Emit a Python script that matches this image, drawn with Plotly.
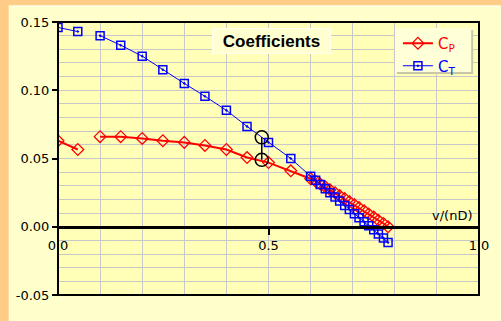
import plotly.graph_objects as go

# ---------------- data ----------------
J_START = [0.0, 0.047]
CP_START = [0.063, 0.0566]
CT_START = [0.146, 0.143]

J_MAIN = [0.100, 0.149, 0.200, 0.249, 0.300, 0.349, 0.400, 0.449, 0.500, 0.553,
          0.600, 0.612, 0.623, 0.635, 0.646, 0.658, 0.669, 0.681, 0.692, 0.704,
          0.715, 0.727, 0.738, 0.750, 0.761, 0.773, 0.784]
CP_MAIN = [0.0660, 0.0660, 0.0647, 0.0630, 0.0618, 0.0596, 0.0566, 0.0507, 0.0470, 0.0410,
           0.0352, 0.0334, 0.0313, 0.0292, 0.0271, 0.0249, 0.0228, 0.0206, 0.0184, 0.0162,
           0.0140, 0.0117, 0.0094, 0.0071, 0.0047, 0.0024, 0.0000]
CT_MAIN = [0.1400, 0.1330, 0.1250, 0.1150, 0.1050, 0.0956, 0.0853, 0.0735, 0.0618, 0.0500,
           0.0370, 0.0340, 0.0310, 0.0279, 0.0249, 0.0218, 0.0188, 0.0156, 0.0126, 0.0095,
           0.0066, 0.0037, 0.0008, -0.0022, -0.0053, -0.0083, -0.0115]

J_MARK = [0.484, 0.484]
C_MARK = [0.0655, 0.0490]

X_TICKS = [0.0, 0.5, 1.0]
X_TICK_TEXT = ["0.0", "0.5", "1.0"]
Y_TICKS = [-0.05, 0.0, 0.05, 0.10, 0.15]
Y_TICK_TEXT = ["-0.05", "0.00", "0.05", "0.10", "0.15"]

# ---------------- styling ----------------
ORANGE = "#FFCC88"
PANEL = "#FFFFCC"
PLOTBG = "#FFFFB8"
GRID = "#C8C8C8"
RED = "#FF0000"
BLUE = "#0000FF"
FONT = "DejaVu Sans"

W, H = 501, 321
L, R, T, B = 58, 12, 22, 26
PW, PH = W - L - R, H - T - B


def px_x(p):
    return (p - L) / PW


def px_y(p):
    return (H - B - p) / PH


fig = go.Figure()

fig.add_trace(go.Scatter(
    x=J_START + [None] + J_MAIN, y=CP_START + [None] + CP_MAIN,
    mode="lines+markers", name="<span style='color:#FF0000'>C<sub>P</sub></span>",
    line=dict(color=RED, width=2),
    marker=dict(symbol="diamond-open", size=9, color=RED, line=dict(width=1.3)),
    connectgaps=False,
))
fig.add_trace(go.Scatter(
    x=J_START + [None] + J_MAIN, y=CT_START + [None] + CT_MAIN,
    mode="lines+markers", name="<span style='color:#0000FF'>C<sub>T</sub></span>",
    line=dict(color=BLUE, width=1),
    marker=dict(symbol="square-open-dot", size=8, color=BLUE, line=dict(width=1.5)),
    connectgaps=False,
))
fig.add_trace(go.Scatter(
    x=J_MARK, y=C_MARK, mode="lines+markers", showlegend=False,
    line=dict(color="black", width=1.5),
    marker=dict(symbol="circle-open", size=13, color="black", line=dict(width=1.5)),
))

shapes = [
    # pale panel inside the orange frame
    dict(type="rect", xref="paper", yref="paper", x0=px_x(7.5), x1=px_x(540),
         y0=px_y(360), y1=px_y(5.5), fillcolor=PANEL, line=dict(width=0), layer="below"),
    # thin light line under the top orange strip
    dict(type="line", xref="paper", yref="paper", x0=px_x(7.5), x1=px_x(540),
         y0=px_y(6), y1=px_y(6), line=dict(color="#FFFFEE", width=1), layer="below"),
    # plot area background
    dict(type="rect", xref="paper", yref="paper", x0=0, x1=1, y0=0, y1=1,
         fillcolor=PLOTBG, line=dict(width=0), layer="below"),
    # title shadow
    dict(type="rect", xref="paper", yref="paper", x0=px_x(220), x1=px_x(337),
         y0=px_y(54), y1=px_y(30), fillcolor="#A8A890", line=dict(width=0), layer="above"),
    # legend shadow
    dict(type="rect", xref="paper", yref="paper", x0=px_x(405), x1=px_x(483),
         y0=px_y(74), y1=px_y(30), fillcolor="#C8C8A8", line=dict(width=0), layer="above"),
    # legend box
    dict(type="rect", xref="paper", yref="paper", x0=px_x(403), x1=px_x(481),
         y0=px_y(72), y1=px_y(28), fillcolor="#FFFFD8", line=dict(width=0), layer="above"),
    # plot frame
    dict(type="rect", xref="paper", yref="paper", x0=0, x1=1, y0=0, y1=1,
         line=dict(color="black", width=2), layer="above"),
]

annotations = [
    dict(text="<b>Coefficients</b>", xref="paper", yref="paper",
         x=px_x(276.5), y=px_y(40.5), xanchor="center", yanchor="middle",
         showarrow=False, font=dict(family="Liberation Sans", size=17, color="black"),
         bgcolor="#FFFFD0", bordercolor="#FFFFF0", borderwidth=1,
         width=115, height=22),
    dict(text="C<sub>P</sub>,C<sub>T</sub>", xref="x", yref="y", x=0.01, y=0.151,
         xanchor="left", yanchor="top", showarrow=False,
         font=dict(family=FONT, size=13, color="black")),
    dict(text="v/(nD)", xref="x", yref="y", x=0.988, y=0.001,
         xanchor="right", yanchor="bottom", showarrow=False,
         font=dict(family=FONT, size=13, color="black")),
]

fig.update_layout(
    width=W, height=H,
    margin=dict(l=L, r=R, t=T, b=B, pad=0),
    paper_bgcolor=ORANGE, plot_bgcolor="rgba(0,0,0,0)",
    shapes=shapes, annotations=annotations,
    showlegend=True,
    legend=dict(x=px_x(406), y=px_y(27), xanchor="left", yanchor="top",
                bgcolor="rgba(0,0,0,0)", borderwidth=0,
                font=dict(family=FONT, size=15), itemwidth=30,
                tracegroupgap=0),
    xaxis=dict(range=[0, 1.0], anchor="free", position=0.25,
               showline=True, linecolor="black", linewidth=3,
               tickmode="array", tickvals=X_TICKS, ticktext=X_TICK_TEXT,
               ticks="outside", ticklen=6, tickwidth=1.5, tickcolor="black",
               tickfont=dict(family=FONT, size=13, color="black"),
               showgrid=True, gridcolor=GRID, gridwidth=1.3, zeroline=False,
               minor=dict(tickmode="linear", tick0=0, dtick=0.1, showgrid=True,
                          gridcolor=GRID, gridwidth=1.3, ticks="")),
    yaxis=dict(range=[-0.05, 0.15],
               showline=False,
               tickmode="array", tickvals=Y_TICKS, ticktext=Y_TICK_TEXT,
               ticks="outside", ticklen=5, tickwidth=1.5, tickcolor="black",
               tickfont=dict(family=FONT, size=13, color="black"),
               showgrid=True, gridcolor=GRID, gridwidth=1.3, zeroline=False,
               minor=dict(tickmode="linear", tick0=0, dtick=0.01, showgrid=True,
                          gridcolor=GRID, gridwidth=1.3, ticks="")),
)

fig.write_html(
    "out.html",
    config={"displayModeBar": False},
    post_script="document.body.style.margin='0';document.body.style.overflow='hidden';",
)
